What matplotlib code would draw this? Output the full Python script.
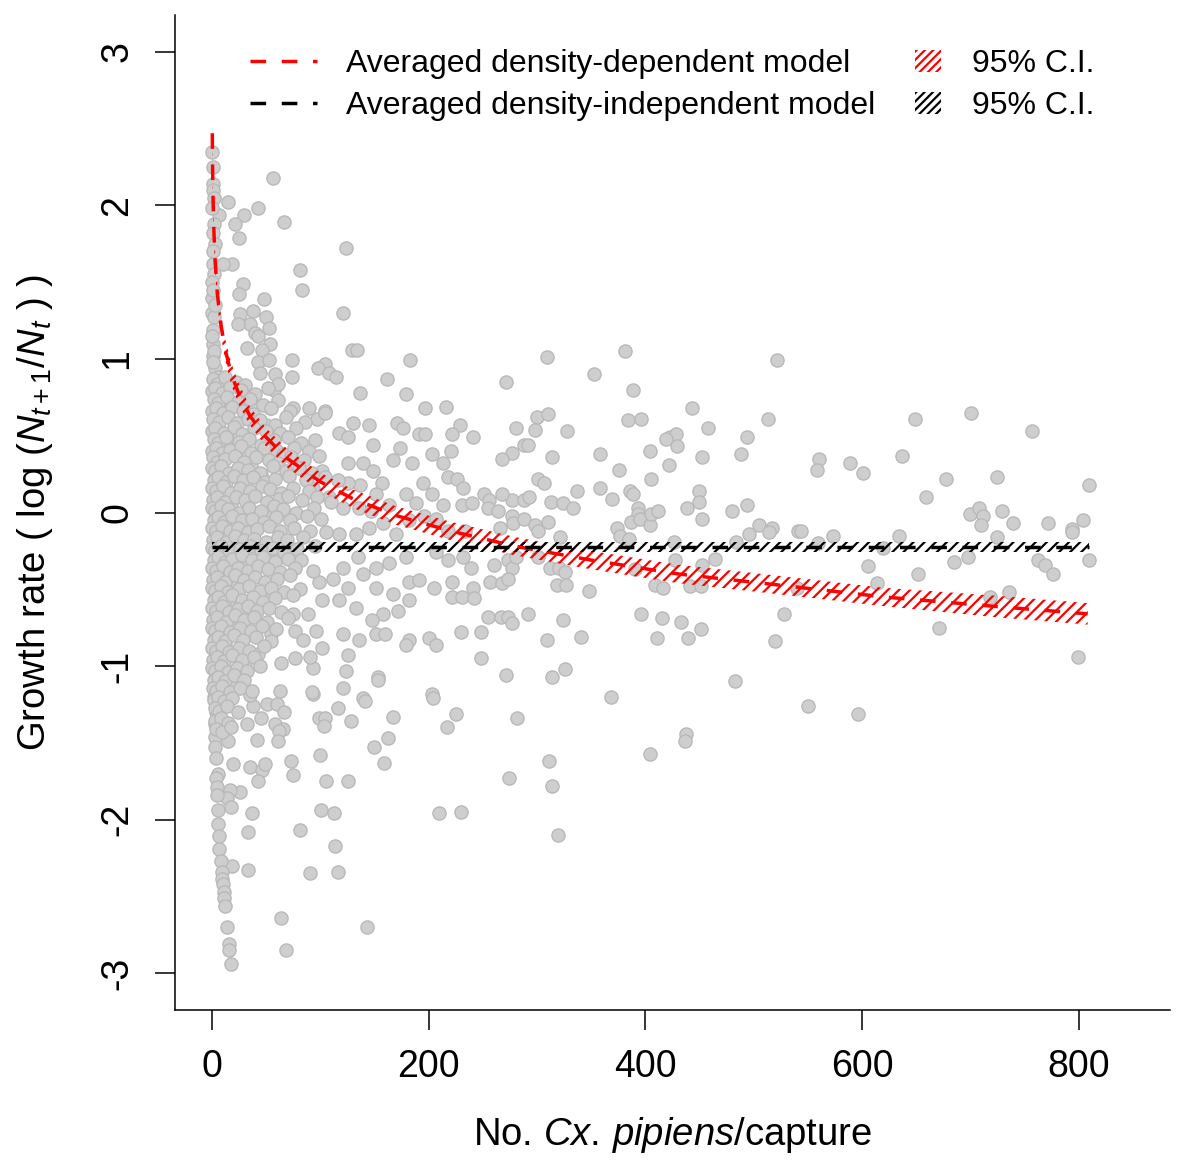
import matplotlib
matplotlib.use("Agg")
import matplotlib.pyplot as plt
from matplotlib.lines import Line2D
from matplotlib.patches import Patch

plt.rcParams['font.family'] = ['Liberation Sans', 'DejaVu Sans']
plt.rcParams['mathtext.fontset'] = 'custom'
plt.rcParams['mathtext.rm'] = 'Liberation Sans'
plt.rcParams['mathtext.it'] = 'Liberation Sans:italic'
plt.rcParams['hatch.linewidth'] = 1.6

# ---------------- data ----------------
# sparse points, upper part (y > ~0.6)
x_up = [0, 56, 15, 29.5, 43, 6.5, 21, 67, 25, 124, 81, 83, 121, 19, 29, 48, 25, 38, 50, 26, 35, 52.5,
        24, 40, 43, 53.5, 32, 46, 129, 134, 74, 182.5, 43, 52.5, 104, 98, 108, 115, 162, 44, 58, 74,
        137, 179, 197, 216, 90, 104, 57, 61, 54, 75,
        1, 1, 2, 1, 1, 10, 0, 0, 2, 1, 1, 1, 3, 6, 6, 8, 12,
        1, 2, 0, 3, 1, 2, 0, 1, 3, 0, 2, 1]
y_up = [2.35, 2.18, 2.02, 1.94, 1.98, 1.94, 1.88, 1.89, 1.79, 1.72, 1.58, 1.45, 1.30, 1.62, 1.49, 1.39, 1.42, 1.31, 1.27, 1.29, 1.23, 1.20,
        1.23, 1.17, 1.15, 1.10, 1.07, 1.06, 1.06, 1.06, 0.99, 0.99, 0.98, 0.99, 0.97, 0.94, 0.91, 0.88, 0.87, 0.91, 0.90, 0.88,
        0.78, 0.77, 0.68, 0.69, 0.68, 0.66, 0.80, 0.84, 0.68, 0.68,
        2.14, 2.10, 1.88, 1.82, 1.62, 1.62, 1.40, 1.30, 1.27, 1.19, 1.10, 1.02, 0.94, 0.88, 0.84, 0.71, 0.64,
        2.25, 2.05, 1.98, 1.75, 1.70, 1.55, 1.50, 1.45, 1.35, 1.15, 1.05, 0.98]

# sparse points, middle band x ~ 90-240
x_mid = [97, 104, 130, 145, 117, 126, 149, 170.5, 176, 191, 197, 221, 174, 167, 185, 194.5, 203, 213,
         126, 139, 149, 157, 151, 137, 126, 102, 116, 93, 108, 121, 135.5, 147, 163, 179, 188, 203, 218,
         213, 196, 182, 206.5, 218, 234, 158, 145, 133, 117, 105, 170, 206.5, 218, 179, 163, 151, 139,
         126, 111.5, 99, 121, 135, 151, 167, 182, 191, 205, 241, 172, 182, 158, 148, 133, 117, 102, 89,
         75, 77, 96, 84, 102, 121, 135.5, 126, 151, 160, 182, 200, 179, 206.5, 93, 91, 77, 64, 123.5, 153,
         93, 139]
y_mid = [0.61, 0.65, 0.58, 0.57, 0.52, 0.49, 0.44, 0.58, 0.55, 0.51, 0.51, 0.40, 0.42, 0.34, 0.32, 0.19, 0.38, 0.32,
         0.32, 0.32, 0.27, 0.19, 0.12, 0.18, 0.19, 0.27, 0.21, 0.16, 0.10, 0.03, 0.03, 0.01, 0.05, 0.12, 0.06, 0.12, 0.23,
         0.05, -0.02, -0.05, -0.04, -0.12, -0.12, -0.07, -0.10, -0.14, -0.14, -0.13, -0.14, -0.26, -0.31, -0.29, -0.33, -0.36, -0.40,
         -0.49, -0.43, -0.45, -0.36, -0.29, -0.49, -0.53, -0.45, -0.44, -0.49, -0.49, -0.64, -0.57, -0.66, -0.70, -0.62, -0.57, -0.57, -0.66,
         -0.66, -0.77, -0.77, -0.83, -0.88, -0.79, -0.83, -0.93, -0.79, -0.79, -0.83, -0.82, -0.86, -0.86, -1.01, -0.94, -0.95, -0.98, -1.03, -1.07,
         -1.18, -1.21]

# sparse points, centre x ~ 220-550
x_ctr = [309, 381, 521, 271, 353, 389, 443, 513, 300, 310, 281, 298, 328, 384, 396, 229, 222, 241, 458, 494,
         488, 452.5, 423, 428, 419, 429.5, 288, 292, 277, 268, 314, 358.5, 404, 422, 376, 405, 300.5, 306, 226, 232,
         337, 358.5, 369, 386, 389, 449, 449, 438, 452, 480, 494, 505, 517, 514, 541,
         277, 288, 293, 313, 324, 333, 231, 240, 251, 256, 268, 255, 264, 277, 278, 288, 298, 310, 301, 266, 321,
         374, 377, 385, 393, 393, 387, 395, 404, 405.5, 412, 426, 484, 496]
y_ctr = [1.01, 1.05, 0.99, 0.85, 0.90, 0.80, 0.68, 0.61, 0.62, 0.64, 0.55, 0.54, 0.53, 0.60, 0.61, 0.57, 0.51, 0.49, 0.55, 0.49,
         0.38, 0.36, 0.49, 0.51, 0.48, 0.43, 0.44, 0.44, 0.39, 0.35, 0.36, 0.38, 0.40, 0.31, 0.28, 0.22, 0.22, 0.19, 0.22, 0.16,
         0.14, 0.16, 0.09, 0.14, 0.12, 0.14, 0.07, 0.03, -0.04, 0.01, 0.05, -0.08, -0.10, -0.13, -0.12,
         0.08, 0.08, 0.10, 0.07, 0.06, 0.03, 0.05, 0.06, 0.12, 0.08, 0.12, 0.03, 0.01, -0.02, -0.07, -0.04, -0.08, -0.06, -0.12, -0.10, -0.16,
         -0.10, -0.15, -0.17, 0.03, -0.01, -0.06, -0.04, -0.08, -0.01, 0.01, -0.19, -0.19, -0.14]

# sparse points below the flat line, x ~ 220-550
x_bel = [232, 239, 260, 273, 277, 281, 301, 312, 320, 326, 257, 268, 273, 318, 327, 348, 222, 222, 231, 241.5,
         409, 416, 441.5, 451, 427, 452.5, 464.5, 390, 255, 267, 273, 277, 292, 324, 396, 415, 433, 451, 528,
         229.5, 248, 309, 341, 411, 439, 520, 248, 271, 314, 326, 483, 368]
y_bel = [-0.29, -0.36, -0.34, -0.31, -0.36, -0.29, -0.29, -0.36, -0.36, -0.39, -0.45, -0.46, -0.43, -0.47, -0.47, -0.51, -0.45, -0.55, -0.55, -0.56,
         -0.47, -0.49, -0.48, -0.48, -0.31, -0.34, -0.30, -0.37, -0.68, -0.68, -0.68, -0.72, -0.66, -0.70, -0.66, -0.69, -0.71, -0.76, -0.66,
         -0.78, -0.78, -0.83, -0.81, -0.82, -0.82, -0.84, -0.95, -1.06, -1.07, -1.02, -1.10, -1.20]

# sparse points, right part x > 540
x_rt = [649, 700.5, 757, 560, 558.5, 589, 601, 637, 677.5, 724.5, 809, 659, 699.6, 708, 711.6, 709.7, 729, 739, 771.5, 804,
        793.6, 793.6, 724.5, 544, 573, 634, 559.5, 619, 685, 698, 762, 769, 776, 809, 605.5, 651.6, 614, 540, 735.5, 718,
        671, 799, 550, 596]
y_rt = [0.61, 0.65, 0.53, 0.35, 0.28, 0.32, 0.26, 0.37, 0.22, 0.23, 0.18, 0.10, -0.01, 0.03, -0.02, -0.08, 0.01, -0.07, -0.07, -0.05,
        -0.11, -0.13, -0.16, -0.12, -0.15, -0.15, -0.20, -0.23, -0.32, -0.29, -0.31, -0.34, -0.40, -0.31, -0.35, -0.40, -0.46, -0.49, -0.52, -0.55,
        -0.75, -0.94, -1.26, -1.31]

# sparse points, lower part (y < ~ -1.1)
x_low = [437.8, 436.9, 404.6, 310.6, 273.7, 313.4, 318.9, 281.1,
         62.7, 92.2, 120.7, 153, 202.8, 203.7, 224.9, 216.6, 116, 141, 166.8, 128, 98.6, 104.2, 103.2, 50.7, 59.9,
         66.4, 45.2, 37.8, 32.3, 58, 65.4, 61.8, 60.8, 41.5, 14.7, 149.3, 162.2, 158.5, 99.5, 72.8, 74.7, 105.1, 125.4,
         19.4, 35, 46, 48.8, 42.4, 25.8, 16.6, 13.8, 17.5, 36.9, 100.5, 112.4, 209.2, 229.5, 33.2, 81.1, 113.4, 18.4,
         33.2, 90.3, 116, 63.6, 142.9, 68.2, 13.8, 15.7, 15.7, 17.5,
         2, 4, 3, 3, 3, 4, 6, 4, 5, 5, 6, 6, 7, 7, 8, 9, 9, 10, 11, 11, 12]
y_low = [-1.44, -1.49, -1.57, -1.62, -1.73, -1.78, -2.10, -1.34,
         -1.16, -1.17, -1.14, -1.09, -1.18, -1.21, -1.31, -1.40, -1.27, -1.23, -1.33, -1.36, -1.34, -1.34, -1.39, -1.25, -1.25,
         -1.30, -1.34, -1.26, -1.38, -1.38, -1.41, -1.42, -1.49, -1.48, -1.49, -1.53, -1.47, -1.63, -1.58, -1.62, -1.71, -1.75, -1.75,
         -1.64, -1.66, -1.68, -1.64, -1.75, -1.82, -1.81, -1.86, -1.92, -1.96, -1.94, -1.96, -1.96, -1.95, -2.08, -2.07, -2.17, -2.30,
         -2.33, -2.35, -2.34, -2.64, -2.70, -2.85, -2.70, -2.81, -2.85, -2.94,
         -1.20, -1.30, -1.38, -1.46, -1.53, -1.60, -1.70, -1.73, -1.79, -1.84, -1.94, -2.03, -2.11, -2.19, -2.27, -2.34, -2.39, -2.42, -2.47, -2.51, -2.56]

# dense cluster at low abundance, read row by row (x values and matching y values)
blob_x = [[1, 5, 12, 22, 31],
          [0, 3, 9, 17, 27, 40, 52],
          [2, 6, 14, 24, 35, 47, 61],
          [0, 4, 10, 19, 29, 38, 55, 72],
          [1, 7, 15, 23, 33, 44, 58, 68, 86],
          [0, 3, 11, 20, 28, 39, 50, 63, 78],
          [2, 6, 13, 25, 34, 45, 57, 70, 82, 95],
          [0, 4, 9, 17, 27, 36, 48, 60, 66, 76, 90],
          [1, 5, 12, 21, 30, 41, 53, 61, 73, 85, 99],
          [0, 3, 8, 16, 24, 33, 44, 56, 68, 80, 92],
          [2, 6, 13, 20, 29, 38, 49, 58, 71, 87, 104],
          [0, 4, 10, 18, 26, 35, 46, 54, 64, 75, 90],
          [1, 5, 12, 22, 31, 40, 51, 62, 70, 83, 97, 110],
          [0, 3, 8, 15, 25, 34, 45, 57, 66, 78, 94],
          [2, 6, 11, 19, 28, 37, 48, 59, 72, 88, 101],
          [0, 4, 9, 17, 24, 33, 42, 53, 63, 76, 91],
          [1, 5, 13, 21, 30, 39, 50, 61, 69, 84],
          [0, 3, 8, 16, 26, 35, 45, 56, 67, 79, 95],
          [2, 6, 12, 19, 28, 37, 47, 58, 70, 82],
          [0, 4, 10, 17, 24, 33, 43, 52, 63, 77, 93],
          [1, 5, 12, 21, 30, 40, 49, 60, 72],
          [0, 3, 8, 15, 25, 34, 44, 55, 67, 81],
          [2, 6, 11, 19, 28, 38, 47, 58, 75],
          [0, 4, 9, 16, 24, 33, 42, 53, 64],
          [1, 5, 13, 21, 30, 39, 51, 70],
          [0, 3, 8, 17, 26, 36, 46, 59],
          [2, 6, 12, 20, 29, 41, 55],
          [0, 4, 9, 16, 25, 34, 48],
          [1, 5, 11, 19, 28, 39],
          [0, 3, 8, 15, 23, 32, 44],
          [2, 6, 12, 20, 30],
          [1, 4, 9, 17, 26, 37],
          [2, 6, 11, 19],
          [3, 7, 14, 24],
          [3, 8, 15],
          [4, 9, 18]]
blob_y = [[0.87, 0.84, 0.88, 0.85, 0.83],
          [0.79, 0.81, 0.78, 0.82, 0.80, 0.77, 0.81],
          [0.74, 0.71, 0.75, 0.72, 0.74, 0.70, 0.73],
          [0.66, 0.68, 0.65, 0.69, 0.66, 0.64, 0.68, 0.66],
          [0.61, 0.59, 0.62, 0.58, 0.61, 0.60, 0.57, 0.62, 0.59],
          [0.53, 0.55, 0.52, 0.56, 0.51, 0.55, 0.53, 0.52, 0.55],
          [0.48, 0.45, 0.49, 0.46, 0.48, 0.44, 0.47, 0.49, 0.45, 0.47],
          [0.40, 0.42, 0.39, 0.41, 0.43, 0.39, 0.42, 0.40, 0.38, 0.42, 0.40],
          [0.36, 0.33, 0.35, 0.37, 0.33, 0.36, 0.34, 0.32, 0.36, 0.34, 0.37],
          [0.29, 0.27, 0.30, 0.26, 0.29, 0.28, 0.26, 0.30, 0.27, 0.29, 0.26],
          [0.21, 0.23, 0.20, 0.24, 0.21, 0.23, 0.20, 0.22, 0.24, 0.21, 0.23],
          [0.16, 0.14, 0.17, 0.13, 0.16, 0.14, 0.17, 0.15, 0.13, 0.16, 0.14],
          [0.08, 0.10, 0.07, 0.10, 0.08, 0.11, 0.07, 0.09, 0.11, 0.08, 0.10, 0.07],
          [0.03, 0.01, 0.04, 0.02, 0.00, 0.03, 0.01, 0.04, 0.02, 0.00, 0.03],
          [-0.05, -0.03, -0.06, -0.02, -0.05, -0.04, -0.06, -0.03, -0.05, -0.02, -0.04],
          [-0.10, -0.12, -0.09, -0.12, -0.10, -0.13, -0.11, -0.09, -0.12, -0.10, -0.12],
          [-0.18, -0.16, -0.19, -0.15, -0.18, -0.17, -0.19, -0.16, -0.18, -0.16],
          [-0.23, -0.25, -0.22, -0.26, -0.24, -0.22, -0.25, -0.23, -0.26, -0.24, -0.22],
          [-0.31, -0.29, -0.32, -0.30, -0.28, -0.31, -0.29, -0.32, -0.30, -0.31],
          [-0.36, -0.38, -0.35, -0.39, -0.36, -0.38, -0.35, -0.37, -0.39, -0.36, -0.38],
          [-0.44, -0.42, -0.45, -0.41, -0.44, -0.42, -0.45, -0.43, -0.41],
          [-0.49, -0.51, -0.48, -0.52, -0.50, -0.48, -0.51, -0.49, -0.52, -0.50],
          [-0.57, -0.55, -0.58, -0.54, -0.57, -0.55, -0.58, -0.56, -0.54],
          [-0.62, -0.64, -0.61, -0.65, -0.63, -0.61, -0.64, -0.62, -0.65],
          [-0.70, -0.68, -0.71, -0.67, -0.70, -0.68, -0.71, -0.69],
          [-0.75, -0.77, -0.74, -0.78, -0.75, -0.77, -0.74, -0.76],
          [-0.83, -0.81, -0.84, -0.80, -0.83, -0.81, -0.84],
          [-0.88, -0.90, -0.87, -0.91, -0.88, -0.90, -0.87],
          [-0.96, -0.94, -0.97, -0.93, -0.96, -0.94],
          [-1.01, -1.03, -1.00, -1.04, -1.01, -1.03, -1.00],
          [-1.09, -1.07, -1.10, -1.06, -1.09],
          [-1.14, -1.16, -1.13, -1.17, -1.14, -1.16],
          [-1.22, -1.20, -1.23, -1.21],
          [-1.27, -1.29, -1.26, -1.30],
          [-1.36, -1.34, -1.37],
          [-1.41, -1.43, -1.40]]
# extra points filling gaps inside the dense cluster
fill_x = [7, 14, 22, 36, 45, 30, 18, 52, 11, 27, 40, 60, 8, 33, 21, 47, 15, 38, 26, 55, 12, 43, 31, 6, 19, 35,
          50, 24, 9, 42, 28, 16, 62, 37, 13, 48]
fill_y = [0.63, 0.50, 0.38, 0.31, 0.25, 0.12, 0.05, -0.01, -0.07, -0.14, -0.20, -0.27, -0.33, -0.40, -0.46, -0.53,
          -0.59, -0.66, -0.72, -0.79, -0.85, -0.92, -0.98, -1.05, -1.11, -1.19, 0.57, 0.44, 0.19, -0.08, -0.34, -0.60,
          0.02, 0.70, -0.92, -0.25]

# averaged density-dependent model and its 95% C.I.
ddm_x = [0.4, 0.7, 1, 1.5, 2, 3, 5, 8, 12, 18, 25, 35, 50, 70, 100, 130, 170, 220, 280, 350, 430, 520, 620, 720, 808]
ddm_y = [2.47, 2.24, 2.09, 1.92, 1.81, 1.64, 1.43, 1.24, 1.07, 0.90, 0.77, 0.63, 0.49, 0.35, 0.20, 0.09, -0.02,
         -0.12, -0.22, -0.31, -0.40, -0.47, -0.55, -0.61, -0.66]
ddm_lo = [2.40, 2.17, 2.02, 1.85, 1.74, 1.57, 1.36, 1.17, 1.00, 0.83, 0.70, 0.57, 0.43, 0.29, 0.14, 0.03, -0.08,
          -0.18, -0.28, -0.37, -0.46, -0.53, -0.61, -0.68, -0.73]
ddm_hi = [2.54, 2.31, 2.16, 1.99, 1.88, 1.71, 1.50, 1.31, 1.14, 0.97, 0.84, 0.69, 0.55, 0.41, 0.26, 0.15, 0.04,
          -0.06, -0.16, -0.25, -0.34, -0.41, -0.49, -0.54, -0.59]

# averaged density-independent model and its 95% C.I.
dim_x = [0, 809]
dim_y = [-0.225, -0.225]
dim_lo = [-0.255, -0.255]
dim_hi = [-0.195, -0.195]

xticks = [0, 200, 400, 600, 800]
yticks = [-3, -2, -1, 0, 1, 2, 3]
legend_labels = ["Averaged density-dependent model", "Averaged density-independent model"]
ci_label = "95% C.I."

# ---------------- figure ----------------
fig = plt.figure(figsize=(12, 11.76), dpi=100)
ax = fig.add_axes([175/1200, 1 - 1010/1176, 995/1200, 995/1176])

px, py = [], []
for xs, ys in [(x_up, y_up), (x_mid, y_mid), (x_ctr, y_ctr), (x_bel, y_bel), (x_rt, y_rt), (x_low, y_low),
               (fill_x, fill_y)]:
    px += xs
    py += ys
for rx, ry in zip(blob_x, blob_y):
    px += rx
    py += ry

ax.scatter(px, py, s=90, facecolor='#cecece', edgecolor='#b9b9b9', linewidth=1.0, zorder=1)

ax.fill_between(ddm_x, ddm_lo, ddm_hi, facecolor='none', edgecolor='#ff0000', hatch='///', linewidth=0, zorder=2)
ax.fill_between(dim_x, dim_lo, dim_hi, facecolor='none', edgecolor='black', hatch='///', linewidth=0, zorder=2)
ax.plot(ddm_x, ddm_y, color='#ff0000', lw=2.5, dashes=(4.5, 4.5), zorder=3)
ax.plot(dim_x, dim_y, color='black', lw=2.5, dashes=(4.5, 4.5), zorder=3)

ax.set_xlim(-34, 884)
ax.set_ylim(-3.24, 3.24)
ax.set_xticks(xticks)
ax.set_yticks(yticks)
ax.set_xticklabels([str(v) for v in xticks])
ax.set_yticklabels([str(v) for v in yticks])
for s in ['top', 'right']:
    ax.spines[s].set_visible(False)
for s in ['left', 'bottom']:
    ax.spines[s].set_linewidth(1.1)
ax.tick_params(axis='both', length=14.4, width=1.1, labelsize=27, pad=14, direction='out')
for lab in ax.get_yticklabels():
    lab.set_rotation(90)
    lab.set_va('center')

ax.set_xlabel(r'No. $\mathit{Cx.\,pipiens}$/capture', fontsize=27.5)
ax.xaxis.label.set_va('center')
ax.xaxis.set_label_coords(0.5, (1010 - 1135) / 995)
ax.set_ylabel(r'Growth rate ( log ($N_{t+1}/N_t$ ) )', fontsize=27.5)
ax.yaxis.label.set_va('center')
ax.yaxis.set_label_coords((35 - 175) / 995, 0.5)

top = (1010 - 49) / 995
h_lines = [Line2D([0], [0], color='#ff0000', lw=2.5, dashes=(4.5, 4.5)),
           Line2D([0], [0], color='black', lw=2.5, dashes=(4.5, 4.5))]
leg1 = ax.legend(h_lines, legend_labels, loc='upper left', bbox_to_anchor=((250 - 175) / 995, top),
                 frameon=False, fontsize=23, handlelength=2.1, handletextpad=0.9, labelspacing=0.38,
                 borderpad=0, borderaxespad=0)
ax.add_artist(leg1)
h_patch = [Patch(facecolor='none', edgecolor='#ff0000', hatch='////', linewidth=0),
           Patch(facecolor='none', edgecolor='black', hatch='////', linewidth=0)]
ax.legend(h_patch, [ci_label, ci_label], loc='upper left', bbox_to_anchor=((915 - 175) / 995, top),
          frameon=False, fontsize=23, handlelength=0.8, handleheight=0.7, handletextpad=1.0, labelspacing=0.38,
          borderpad=0, borderaxespad=0)

fig.savefig('out.png', dpi=100)
